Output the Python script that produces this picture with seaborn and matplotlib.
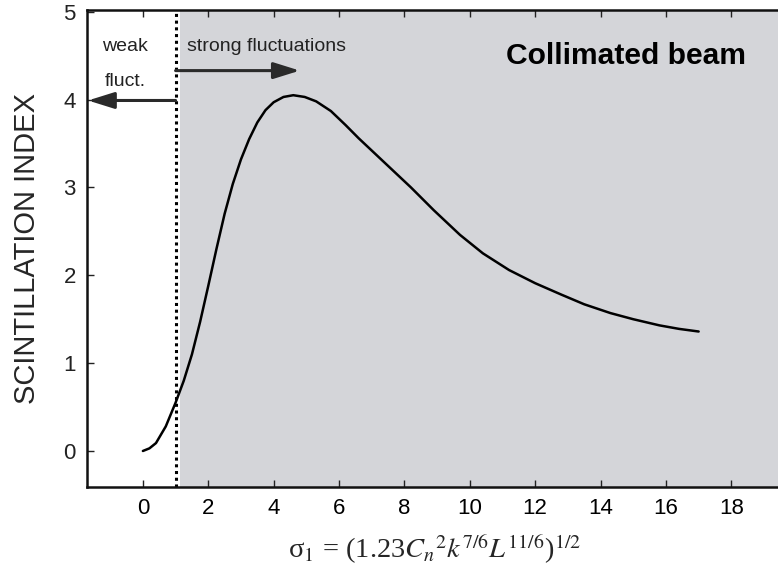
import matplotlib
matplotlib.use("Agg")
import matplotlib.pyplot as plt
import seaborn as sns
import pandas as pd

# data
sigma = [0.0, 0.2, 0.4, 0.7, 1.0, 1.25, 1.5, 1.75, 2.0, 2.25, 2.5, 2.75, 3.0, 3.25, 3.5, 3.75,
         4.0, 4.3, 4.6, 4.95, 5.3, 5.75, 6.2, 6.6, 7.0, 7.6, 8.2, 8.9, 9.7, 10.4, 11.2, 12.0,
         12.8, 13.5, 14.3, 15.0, 15.8, 16.4, 17.0]
scint = [0.0, 0.03, 0.09, 0.28, 0.55, 0.80, 1.10, 1.47, 1.88, 2.30, 2.70, 3.04, 3.32, 3.55, 3.74, 3.88,
         3.97, 4.03, 4.05, 4.03, 3.98, 3.87, 3.71, 3.56, 3.42, 3.21, 3.00, 2.74, 2.46, 2.25, 2.06, 1.91,
         1.78, 1.67, 1.57, 1.50, 1.43, 1.39, 1.36]
xticks = [0, 2, 4, 6, 8, 10, 12, 14, 16, 18]
yticks = [0, 1, 2, 3, 4, 5]
boundary = 1.0

df = pd.DataFrame({"sigma": sigma, "scint": scint})

sns.set_style("ticks")
plt.rcParams["font.family"] = ["Liberation Sans", "DejaVu Sans"]
plt.rcParams["mathtext.fontset"] = "stix"

fig = plt.figure(figsize=(7.78, 5.76), dpi=100)
ax = fig.add_axes([87 / 778, 89 / 576, (782 - 87) / 778, (487 - 10) / 576])

ax.set_xlim(-1.71, 19.55)
ax.set_ylim(-0.41, 5.02)

ax.axvspan(1.13, 20, color="#d4d5d9", zorder=0, lw=0)
ax.axvline(boundary, color="black", ls=(0, (1, 1.2)), lw=2.2, zorder=2)

sns.lineplot(data=df, x="sigma", y="scint", color="black", lw=1.8, ax=ax, zorder=3)

arrow_kw = dict(arrowstyle="-|>,head_length=1.6,head_width=0.5", color="#2a2a2a", lw=2.2,
                shrinkA=0, shrinkB=0)
ax.annotate("", xy=(4.8, 4.33), xytext=(boundary, 4.33), arrowprops=arrow_kw, zorder=4)
ax.annotate("", xy=(-1.68, 3.99), xytext=(boundary, 3.99), arrowprops=arrow_kw, zorder=4)

ax.text(-0.55, 4.6, "weak", ha="center", va="center", fontsize=14, color="#222222")
ax.text(-0.55, 4.21, "fluct.", ha="center", va="center", fontsize=14, color="#222222")
ax.text(1.35, 4.61, "strong fluctuations", ha="left", va="center", fontsize=14, color="#222222")
ax.text(11.1, 4.5, "Collimated beam", ha="left", va="center", fontsize=21.6,
        fontweight="bold", color="black")

ax.set_xticks(xticks)
ax.set_yticks(yticks)
ax.set_xticklabels([str(t) for t in xticks], fontsize=16)
ax.set_yticklabels([str(t) for t in yticks], fontsize=16)
ax.tick_params(direction="in", length=5, width=1, top=True, colors="#222222", pad=8)
ax.tick_params(axis="x", labelcolor="black")

for s in ["left", "bottom", "top"]:
    ax.spines[s].set_linewidth(1.8)
    ax.spines[s].set_color("#111111")
ax.spines["right"].set_visible(False)

ax.set_xlabel(r"σ$_1$ = (1.23$C_n{}^2k^{7/6}L^{11/6}$)$^{1/2}$", fontsize=20.5, labelpad=10,
              family=["Liberation Serif", "DejaVu Serif"])
ax.set_ylabel("SCINTILLATION INDEX", fontsize=21, labelpad=16)

fig.savefig("out.png", dpi=100)
